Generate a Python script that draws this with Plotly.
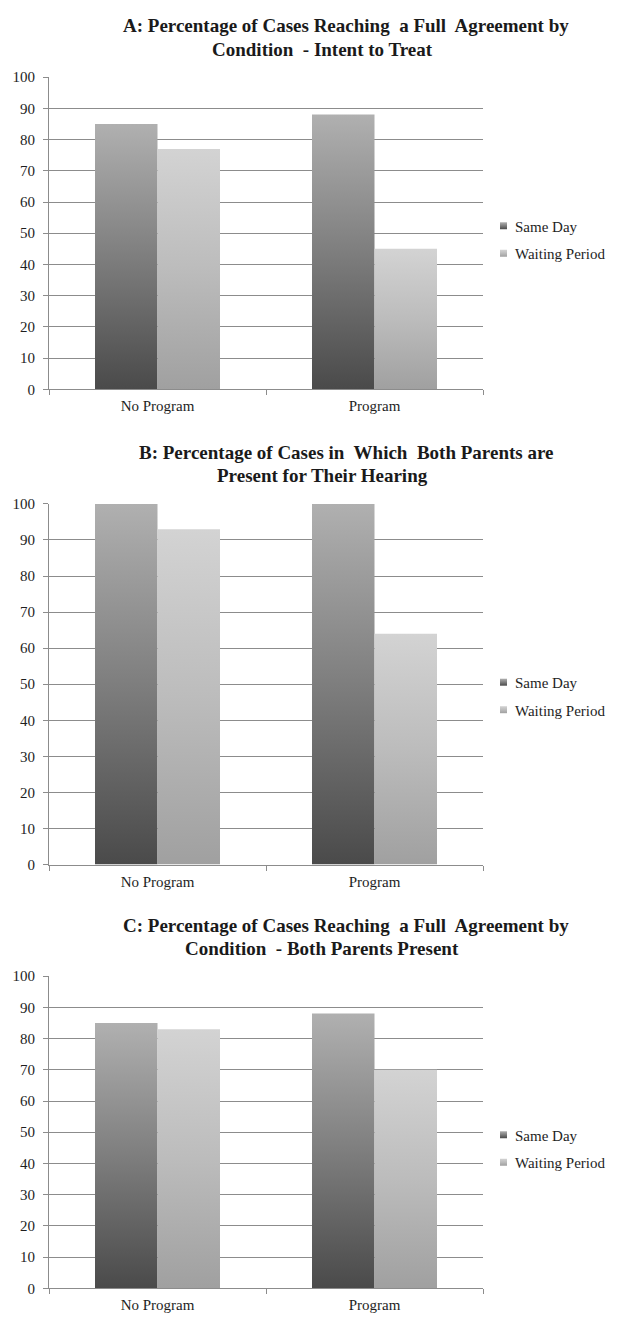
import plotly.graph_objects as go

# ---------------- data ----------------
categories = ["No Program", "Program"]
series_names = ["Same Day", "Waiting Period"]

a_same_day = [85, 88]
a_waiting = [77, 45]

b_same_day = [100, 100]
b_waiting = [93, 64]

c_same_day = [85, 88]
c_waiting = [83, 70]

title_a = ["A: Percentage of Cases Reaching  a Full  Agreement by", "Condition  - Intent to Treat"]
title_b = ["B: Percentage of Cases in  Which  Both Parents are", "Present for Their Hearing"]
title_c = ["C: Percentage of Cases Reaching  a Full  Agreement by", "Condition  - Both Parents Present"]

y_tick_vals = [0, 10, 20, 30, 40, 50, 60, 70, 80, 90, 100]

# ---------------- layout helpers ----------------
W, H = 620, 1324


def px(x):
    return x / W


def py(y):
    return 1 - y / H


SAME_SOLID = "rgb(126, 126, 126)"
WAIT_SOLID = "rgb(184, 184, 184)"
GRID = "#8c8c8c"
SERIF = "Liberation Serif, Times New Roman, serif"

panels = [
    # (same, waiting, title lines, plot top px, plot bottom px, title line y px, legend top px)
    (a_same_day, a_waiting, title_a, 70, 386, (18, 42), 204),
    (b_same_day, b_waiting, title_b, 502, 867, (450, 473), 666),
    (c_same_day, c_waiting, title_c, 980, 1296, (929, 952), 1124),
]

fig = go.Figure()
annotations = []
layout_extra = {}

for i, (same, wait, tlines, top, bot, tys, leg_top) in enumerate(panels):
    sfx = "" if i == 0 else str(i + 1)
    xa = "x" + sfx
    ya = "y" + sfx
    leg = "legend" + sfx
    for name, vals, col in ((series_names[0], same, SAME_SOLID), (series_names[1], wait, WAIT_SOLID)):
        fig.add_trace(go.Bar(
            x=categories, y=vals, name=name,
            marker=dict(color=col, line=dict(width=0)),
            xaxis=xa, yaxis=ya, legend=leg, legendgroup=name + sfx,
            hoverinfo="skip",
        ))
    layout_extra["xaxis" + sfx] = dict(
        domain=[px(49), px(483)], anchor=ya, type="category",
        showline=True, linecolor=GRID, linewidth=1,
        ticks="outside", tickson="boundaries", ticklen=5, tickcolor=GRID,
        showgrid=False, zeroline=False,
        tickfont=dict(family=SERIF, size=15, color="#1e1e1e"),
        ticklabelstandoff=3,
    )
    layout_extra["yaxis" + sfx] = dict(
        domain=[py(bot), py(top)], anchor=xa, range=[0, 100],
        tickvals=y_tick_vals, showline=True, linecolor=GRID, linewidth=1,
        ticks="outside", ticklen=5, tickcolor=GRID,
        showgrid=True, gridcolor=GRID, gridwidth=1, zeroline=False,
        tickfont=dict(family=SERIF, size=15, color="#1e1e1e"),
        ticklabelstandoff=5,
    )
    layout_extra[leg] = dict(
        x=px(475), xanchor="left", y=py(leg_top), yanchor="top",
        font=dict(family=SERIF, size=15, color="#1e1e1e"),
        bgcolor="rgba(0,0,0,0)", traceorder="grouped", tracegroupgap=5,
    )
    annotations.append(dict(
        text="<b>%s</b>" % tlines[0], x=px(346), y=py(tys[0]),
        xref="paper", yref="paper", xanchor="center", yanchor="middle",
        showarrow=False, font=dict(family=SERIF, size=19, color="#1a1a1a"),
    ))
    annotations.append(dict(
        text="<b>%s</b>" % tlines[1], x=px(322), y=py(tys[1]),
        xref="paper", yref="paper", xanchor="center", yanchor="middle",
        showarrow=False, font=dict(family=SERIF, size=19, color="#1a1a1a"),
    ))

fig.update_layout(
    width=W, height=H, margin=dict(l=0, r=0, t=0, b=0),
    paper_bgcolor="white", plot_bgcolor="white",
    barmode="group", bargap=0.424, bargroupgap=0,
    showlegend=True, annotations=annotations,
    **layout_extra,
)

post = """
var gd = document.getElementById('{plot_id}');
var ns = 'http://www.w3.org/2000/svg';
var svg = gd.querySelector('svg.main-svg');
var defs = svg.querySelector('defs');
if (!defs) { defs = document.createElementNS(ns, 'defs'); svg.insertBefore(defs, svg.firstChild); }
function mk(id, stops) {
  var g = document.createElementNS(ns, 'linearGradient');
  g.setAttribute('id', id);
  g.setAttribute('x1', '0'); g.setAttribute('y1', '1');
  g.setAttribute('x2', '0'); g.setAttribute('y2', '0');
  stops.forEach(function (s) {
    var st = document.createElementNS(ns, 'stop');
    st.setAttribute('offset', s[0]); st.setAttribute('stop-color', s[1]);
    g.appendChild(st);
  });
  defs.appendChild(g);
}
mk('gradSame', [['0', '#4a4a4a'], ['0.5', '#7e7e7e'], ['1', '#b0b0b0']]);
mk('gradWait', [['0', '#a0a0a0'], ['0.5', '#bcbcbc'], ['1', '#d3d3d3']]);
gd.querySelectorAll('path').forEach(function (p) {
  var f = p.style.fill;
  if (f === '%s') { p.style.fill = 'url(#gradSame)'; }
  else if (f === '%s') { p.style.fill = 'url(#gradWait)'; }
});
gd.querySelectorAll('.legendpoints path').forEach(function (p) {
  p.setAttribute('d', 'M12,3.5H5V-3.5H12Z');
});
""" % (SAME_SOLID, WAIT_SOLID)

fig.write_html("out.html", post_script=post)
